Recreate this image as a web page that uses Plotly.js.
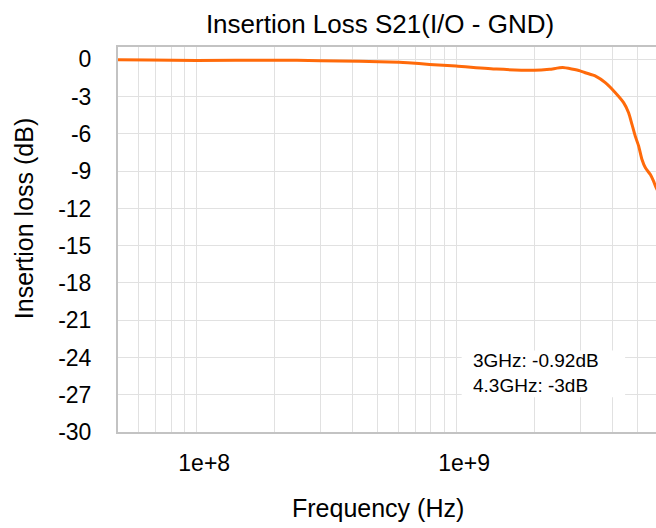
<!DOCTYPE html>
<html>
<head>
<meta charset="utf-8">
<script src="https://cdn.plot.ly/plotly-3.0.1.min.js"></script>
<style>
html, body { margin: 0; padding: 0; overflow: hidden; background: #fff; }
#chart { width: 760px; height: 528px; }
</style>
</head>
<body>
<div id="chart"></div>
<script>
// Frequency (Hz) and insertion loss (dB)
const freqHz = [5.0e7, 6.6e7, 1.0e8, 2.0e8, 3.0e8, 4.25e8, 6.05e8, 6.52e8, 7.9e8, 1.0e9,
                1.43e9, 2.0e9, 2.29e9, 2.57e9, 3.0e9, 3.14e9, 3.44e9, 3.75e9, 4.10e9,
                4.41e9, 4.61e9, 4.75e9, 4.89e9, 5.04e9, 5.19e9, 5.35e9, 5.59e9,
                5.75e9, 5.85e9, 6.1e9];
const lossDb = [-0.02, -0.04, -0.08, -0.06, -0.10, -0.15, -0.22, -0.26, -0.40, -0.53,
                -0.78, -0.88, -0.80, -0.66, -0.92, -1.07, -1.34, -1.87, -2.68,
                -3.48, -4.29, -5.23, -6.18, -6.98, -8.06, -8.73, -9.27,
                -9.8, -10.2, -11.0];

// Axis ticks
const xTickVals = [5e7, 6e7, 7e7, 8e7, 9e7,
                   1e8, 2e8, 3e8, 4e8, 5e8, 6e8, 7e8, 8e8, 9e8,
                   1e9, 2e9, 3e9, 4e9, 5e9, 6e9, 7e9, 8e9, 9e9, 1e10];
const xTickText = ['', '', '', '', '',
                   '1e+8', '', '', '', '', '', '', '', '',
                   '1e+9', '', '', '', '', '', '', '', '', ''];
const yTickVals = [0, -3, -6, -9, -12, -15, -18, -21, -24, -27, -30];
const yTickText = ['0', '-3', '-6', '-9', '-12', '-15', '-18', '-21', '-24', '-27', '-30'];

const noteLines = ['3GHz: -0.92dB', '4.3GHz: -3dB'];

const FONT = '"Liberation Sans", Arial, sans-serif';

const trace = {
  x: freqHz,
  y: lossDb,
  type: 'scatter',
  mode: 'lines',
  line: { color: '#ff6a0a', width: 3, shape: 'spline', smoothing: 0.5 },
  hoverinfo: 'skip'
};

const layout = {
  width: 760,
  height: 528,
  margin: { l: 118, r: 44, t: 47, b: 96 },
  paper_bgcolor: '#ffffff',
  plot_bgcolor: '#ffffff',
  showlegend: false,
  font: { family: FONT, color: '#000000' },
  title: {
    text: 'Insertion Loss S21(I/O - GND)',
    font: { family: FONT, size: 26, color: '#000000' },
    xref: 'container', x: 0.5, xanchor: 'center',
    yref: 'container', y: 0.955, yanchor: 'middle'
  },
  xaxis: {
    type: 'log',
    range: [Math.log10(5e7), Math.log10(1e10)],
    tickmode: 'array',
    tickvals: xTickVals,
    ticktext: xTickText,
    ticks: '',
    showgrid: true,
    gridcolor: '#e1e1e1',
    gridwidth: 1,
    showline: true,
    linecolor: '#c3c3c3',
    linewidth: 2,
    mirror: true,
    zeroline: false,
    ticklabelshift: 8,
    ticklabelstandoff: 9,
    tickfont: { family: FONT, size: 23, color: '#000000' }
  },
  yaxis: {
    range: [-30, 1],
    tickmode: 'array',
    tickvals: yTickVals,
    ticktext: yTickText,
    ticks: '',
    showgrid: true,
    gridcolor: '#e1e1e1',
    gridwidth: 1,
    showline: true,
    linecolor: '#c3c3c3',
    linewidth: 2,
    mirror: true,
    zeroline: false,
    ticklabelstandoff: 20,
    tickfont: { family: FONT, size: 23, color: '#000000' }
  },
  shapes: [{
    type: 'rect', xref: 'paper', yref: 'paper',
    x0: 0.5747, x1: 0.848, y0: 0.090, y1: 0.212,
    fillcolor: '#ffffff', line: { width: 0 }, layer: 'above'
  }],
  annotations: [
    {
      text: noteLines.join('<br>'),
      xref: 'paper', yref: 'paper', x: 0.591, y: 0.153,
      xanchor: 'left', yanchor: 'middle', align: 'left',
      showarrow: false,
      font: { family: FONT, size: 19, color: '#000000' }
    },
    {
      text: 'Insertion loss (dB)',
      xref: 'paper', yref: 'paper', x: -0.157, y: 0.553,
      xanchor: 'center', yanchor: 'middle', textangle: -90,
      showarrow: false,
      font: { family: FONT, size: 25, color: '#000000' }
    },
    {
      text: 'Frequency (Hz)',
      xref: 'paper', yref: 'paper', x: 0.435, y: -0.198,
      xanchor: 'center', yanchor: 'middle',
      showarrow: false,
      font: { family: FONT, size: 25, color: '#000000' }
    }
  ]
};

Plotly.newPlot('chart', [trace], layout, { displayModeBar: false, staticPlot: true });
</script>
</body>
</html>
